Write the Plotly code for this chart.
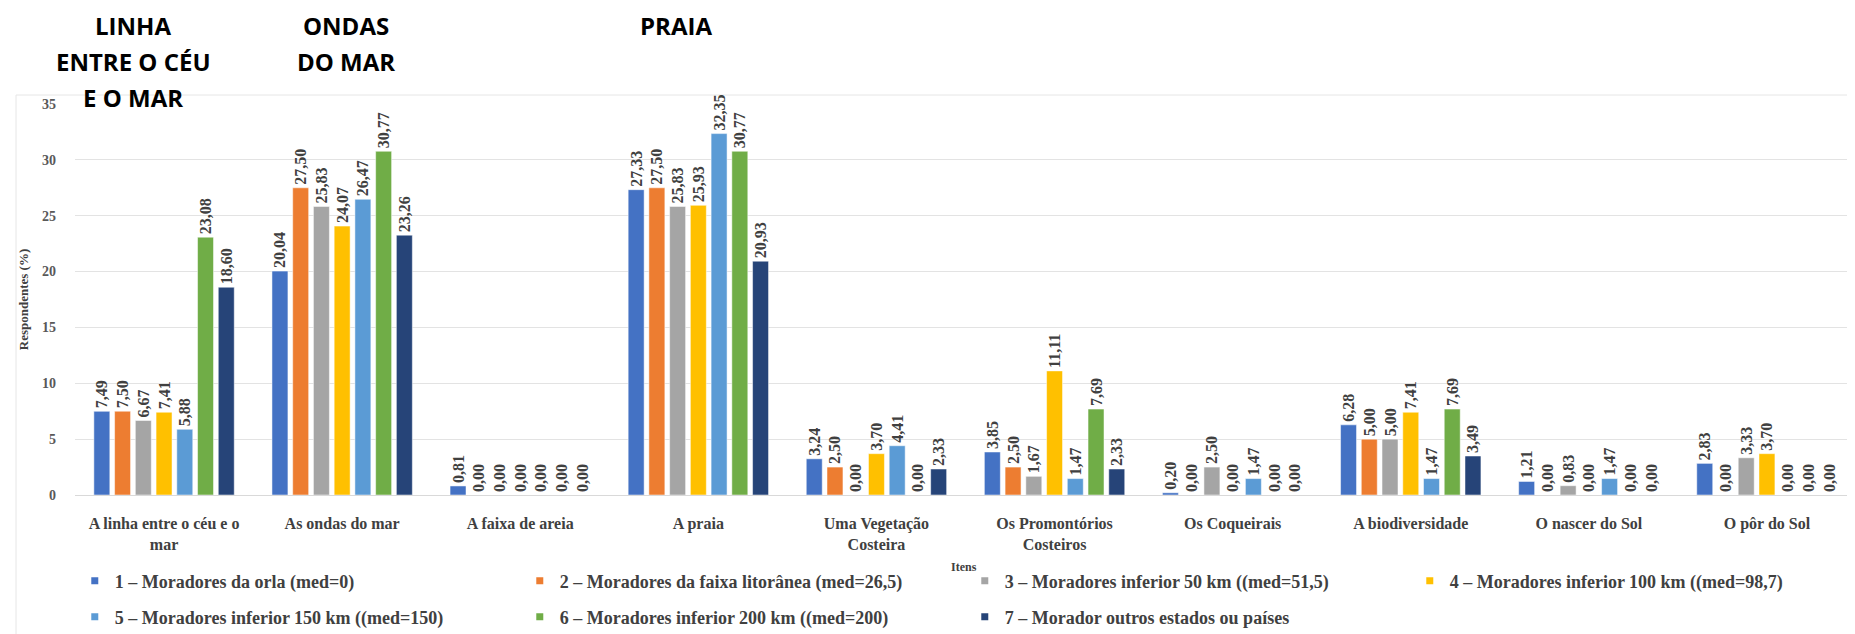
import plotly.graph_objects as go

# categories and series
itens = [
    "A linha entre o céu e o<br>mar",
    "As ondas do mar",
    "A faixa de areia",
    "A praia",
    "Uma Vegetação<br>Costeira",
    "Os Promontórios<br>Costeiros",
    "Os Coqueirais",
    "A biodiversidade",
    "O nascer do Sol",
    "O pôr do Sol",
]

serie_nomes = [
    "1 – Moradores da orla (med=0)",
    "2 – Moradores da faixa litorânea (med=26,5)",
    "3 – Moradores inferior 50 km ((med=51,5)",
    "4 – Moradores inferior 100 km ((med=98,7)",
    "5 – Moradores inferior 150 km ((med=150)",
    "6 – Moradores inferior 200 km ((med=200)",
    "7 – Morador outros estados ou países",
]

orla = [7.49, 20.04, 0.81, 27.33, 3.24, 3.85, 0.20, 6.28, 1.21, 2.83]
faixa_litoranea = [7.50, 27.50, 0.00, 27.50, 2.50, 2.50, 0.00, 5.00, 0.00, 0.00]
inf_50km = [6.67, 25.83, 0.00, 25.83, 0.00, 1.67, 2.50, 5.00, 0.83, 3.33]
inf_100km = [7.41, 24.07, 0.00, 25.93, 3.70, 11.11, 0.00, 7.41, 0.00, 3.70]
inf_150km = [5.88, 26.47, 0.00, 32.35, 4.41, 1.47, 1.47, 1.47, 1.47, 0.00]
inf_200km = [23.08, 30.77, 0.00, 30.77, 0.00, 7.69, 0.00, 7.69, 0.00, 0.00]
outros = [18.60, 23.26, 0.00, 20.93, 2.33, 2.33, 0.00, 3.49, 0.00, 0.00]

series = [orla, faixa_litoranea, inf_50km, inf_100km, inf_150km, inf_200km, outros]

cores = ["#4472C4", "#ED7D31", "#A5A5A5", "#FFC000", "#5B9BD5", "#70AD47", "#264478"]

destaques = [
    ["LINHA", "ENTRE O CÉU", "E O MAR"],
    ["ONDAS", "DO MAR"],
    ["PRAIA"],
]

# plot area in pixels
W_FIG, H_FIG = 1855, 634
L, R, T, B = 67, 7, 96, 147
PW = W_FIG - L - R
PH = H_FIG - T - B

serif = "Liberation Serif"


def fx(px):
    return (px - L) / PW


def fy(py):
    return (H_FIG - B - py) / PH


def fmt(v):
    return f"{v:.2f}".replace(".", ",")


fig = go.Figure()

for nome, vals, cor in zip(serie_nomes, series, cores):
    fig.add_trace(
        go.Bar(
            x=itens,
            y=vals,
            name=nome,
            marker_color=cor,
            text=[fmt(v) for v in vals],
            textposition="outside",
            textangle=-90,
            constraintext="none",
            cliponaxis=False,
            textfont=dict(family=serif, size=16, color="#404040", weight="bold"),
            showlegend=False,
        )
    )

# legend entries with small square markers, split over two rows
for i, (nome, cor) in enumerate(zip(serie_nomes, cores)):
    fig.add_trace(
        go.Scatter(
            x=[None],
            y=[None],
            mode="markers",
            name=nome,
            marker=dict(symbol="square", size=7, color=cor),
            legend="legend" if i < 4 else "legend2",
        )
    )

legend_style = dict(
    orientation="h",
    xref="container",
    yref="container",
    x=0.036,
    xanchor="left",
    yanchor="middle",
    entrywidth=400,
    entrywidthmode="pixels",
    itemsizing="trace",
    font=dict(family=serif, size=18, color="#404040", weight="bold"),
    bgcolor="rgba(0,0,0,0)",
)

fig.update_layout(
    width=W_FIG,
    height=H_FIG,
    paper_bgcolor="White",
    plot_bgcolor="White",
    template="plotly_white",
    margin=dict(l=L, r=R, t=T, b=B, autoexpand=False),
    barmode="group",
    bargap=0.185,
    bargroupgap=0.23,
    legend=dict(legend_style, y=1 - 573 / H_FIG),
    legend2=dict(legend_style, y=1 - 609 / H_FIG),
)

fig.update_yaxes(
    range=[0, 35],
    dtick=5,
    showgrid=True,
    gridcolor="#E3E3E3",
    gridwidth=1,
    zeroline=True,
    zerolinecolor="#D9D9D9",
    zerolinewidth=1,
    ticks="",
    ticklabelstandoff=18,
    tickfont=dict(family=serif, size=14, color="#595959", weight="bold"),
    title=dict(
        text="Respondentes (%)",
        font=dict(family=serif, size=13, color="#404040", weight="bold"),
        standoff=10,
    ),
)

fig.update_xaxes(
    range=[-0.5, len(itens) - 0.5],
    showgrid=False,
    ticks="",
    ticklabelstandoff=17,
    tickfont=dict(family=serif, size=16, color="#404040", weight="bold"),
)

# x axis title placed by hand (standoff is ignored without automargin)
fig.add_annotation(
    text="Itens",
    xref="paper",
    yref="paper",
    x=fx(956),
    y=fy(559),
    xanchor="center",
    yanchor="middle",
    showarrow=False,
    font=dict(family=serif, size=12, color="#404040", weight="bold"),
)

# light frame of the original chart area
fig.add_shape(
    type="rect",
    xref="paper",
    yref="paper",
    x0=fx(8),
    x1=fx(1847),
    y0=fy(633),
    y1=fy(87),
    line=dict(color="#E6E6E6", width=1),
    layer="below",
)

# bold overlay labels at the top
pos_x = [125, 338, 668]
pos_y = [18, 54, 90]
for linhas, px in zip(destaques, pos_x):
    for linha, py in zip(linhas, pos_y):
        fig.add_annotation(
            text=linha,
            xref="paper",
            yref="paper",
            x=fx(px),
            y=fy(py),
            xanchor="center",
            yanchor="middle",
            showarrow=False,
            font=dict(family="Open Sans", size=24, color="black", weight="bold"),
        )

fig.write_html("out.html")
